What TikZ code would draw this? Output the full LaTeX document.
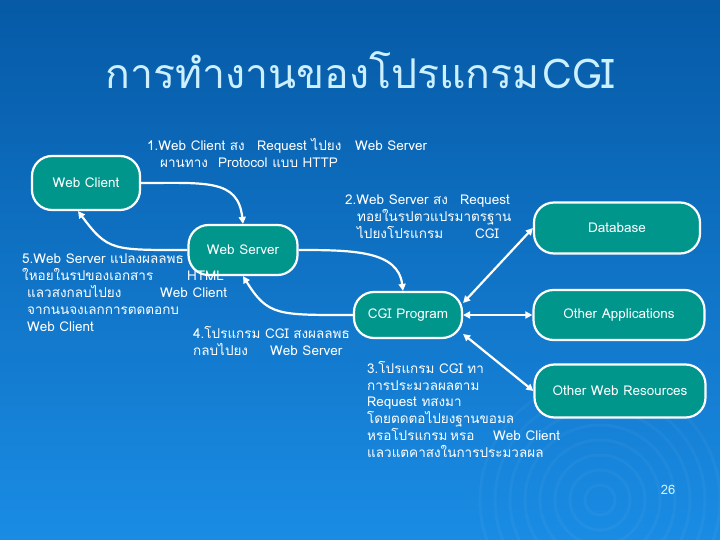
\documentclass[tikz,border=0pt]{standalone}
\usepackage{fontspec}
\setmainfont{DejaVu Sans}
\newfontfamily\thaifont[Script=Thai]{Loma}
\usetikzlibrary{arrows.meta}
\definecolor{bgtop}{RGB}{6,90,166}
\definecolor{bgbot}{RGB}{26,140,228}
\definecolor{boxfill}{RGB}{0,150,140}
\definecolor{titlecol}{RGB}{204,240,255}
\begin{document}
\begin{tikzpicture}[x=1pt,y=-1pt,
  box/.style={draw=white, line width=2.2pt, fill=boxfill, rounded corners=20pt, text=white,
    font=\thaifont\fontsize{13.5}{15}\selectfont, inner sep=0pt},
  conn/.style={draw=white, line width=2.2pt, -{Triangle[length=7pt,width=7pt]}},
  conn2/.style={draw=white, line width=2.2pt, {Triangle[length=7pt,width=7pt]}-{Triangle[length=7pt,width=7pt]}},
  lbl/.style={anchor=north west, inner sep=0pt, text=white, align=left,
    font=\thaifont\fontsize{13.5}{16.8}\selectfont}]
\shade[top color=bgtop, bottom color=bgbot] (0,0) rectangle (720,540);
\useasboundingbox (0,0) rectangle (720,540);
\foreach \r in {15,30,...,120}
  \draw[white, opacity=0.035, line width=3pt] (600,500) circle (\r);

\node[font=\thaifont\fontsize{41}{48}\selectfont, text=titlecol, inner sep=0pt] (title) at (360,70) {การทำงานของโปรแกรม\hspace{3pt}CGI};

\node[box, minimum width=108pt, minimum height=54pt] (wc) at (86,183) {Web Client};
\node[box, minimum width=109pt, minimum height=50pt] (ws) at (243,250) {Web Server};
\node[box, minimum width=108pt, minimum height=46pt] (cgi) at (408,315) {CGI Program};
\node[box, minimum width=166pt, minimum height=51pt] (db) at (617,228) {Database};
\node[box, minimum width=171pt, minimum height=50pt] (oa) at (619,315) {Other Applications};
\node[box, minimum width=171pt, minimum height=53pt] (owr) at (620,391) {Other Web Resources};

\draw[conn] (wc.east) .. controls +(65,0) and +(-5,-45) .. (ws.north);
\draw[conn] (ws.west) .. controls +(-75,0) and +(30,40) .. ([xshift=-8pt]wc.south);
\draw[conn] (ws.east) .. controls +(55,0) and +(-5,-40) .. ([xshift=-5pt]cgi.north);
\draw[conn] (cgi.west) .. controls +(-75,0) and +(25,40) .. (ws.south);
\draw[conn2] ([yshift=12pt]cgi.east) -- (db.west);
\draw[conn2] (cgi.east) -- (oa.west);
\draw[conn2] ([yshift=-19pt]cgi.east) -- (owr.west);

\node[lbl] (l1) at (147,138) {\makebox[110pt][l]{1.Web Client สง}\makebox[98pt][l]{Request ไปยง}Web Server\\
\hspace*{13pt}\makebox[58pt][l]{ผานทาง}Protocol แบบ HTTP};
\node[lbl] (l2) at (345,195) {\makebox[115pt][l]{2.Web Server สง}Request\\
\hspace*{12pt}ทอยในรปตวแปรมาตรฐาน\\
\hspace*{12pt}\makebox[118pt][l]{ไปยงโปรแกรม}CGI};
\node[lbl] (l5) at (22,254) {5.Web Server แปลงผลลพธ\\
\makebox[165pt][l]{ใหอยในรปของเอกสาร}HTML\\
\hspace*{5pt}\makebox[133pt][l]{แลวสงกลบไปยง}Web Client\\
\hspace*{5pt}จากนนจงเลกการตดตอกบ\\
\hspace*{5pt}Web Client};
\node[lbl] (l4) at (193,326) {4.โปรแกรม CGI สงผลลพธ\\
\makebox[77pt][l]{กลบไปยง}Web Server};
\node[lbl] (l3) at (367,361) {3.โปรแกรม CGI ทา\\
การประมวลผลตาม\\
Request ทสงมา\\
โดยตดตอไปยงฐานขอมล\\
\makebox[83pt][l]{หรอโปรแกรม}\makebox[43pt][l]{หรอ}Web Client\\
แลวแตคาสงในการประมวลผล};
\node[text=titlecol, font=\thaifont\fontsize{13}{14}\selectfont, inner sep=0pt] (pg) at (668,490) {26};
\end{tikzpicture}
\end{document}
